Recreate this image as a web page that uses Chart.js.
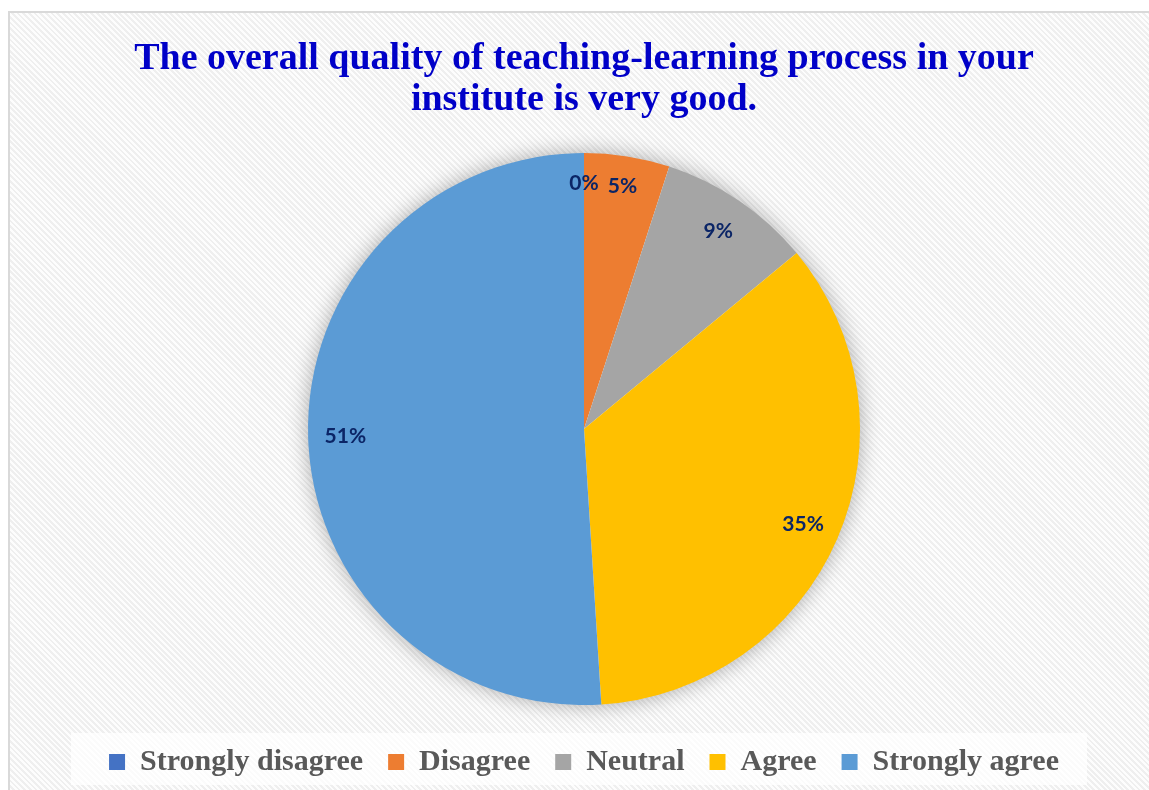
<!DOCTYPE html>
<html>
<head>
<meta charset="utf-8">
<script src="https://cdn.jsdelivr.net/npm/chart.js@4"></script>
<style>
  body { margin: 0; background: #fff; overflow: hidden; }
  #frame {
    position: absolute; left: 8px; top: 11px;
    width: 1200px; height: 800px;
    border: 2px solid #d9d9d9;
    background: repeating-linear-gradient(45deg, #fdfdfd 0px, #fdfdfd 2px, #efefef 2px, #efefef 4px);
  }
  #pie { display: block; }
</style>
</head>
<body>
<div id="frame">
  <canvas id="pie" width="1148" height="777"></canvas>
</div>
<script>
// answers and their share (%)
var categories = ['Strongly disagree', 'Disagree', 'Neutral', 'Agree', 'Strongly agree'];
var shares = [0, 5, 9, 35, 51];
var sliceColors = ['#4472C4', '#ED7D31', '#A5A5A5', '#FFC000', '#5B9BD5'];
var titleLines = ['The overall quality of teaching-learning process in your', 'institute is very good.'];

// soft glow behind the pie
const pieShadow = {
    id: 'pieShadow',
    beforeDatasetsDraw(chart) {
        const arc = chart.getDatasetMeta(0).data[0];
        if (!arc) return;
        const p = arc.getProps(['x', 'y', 'outerRadius'], true);
        const ctx = chart.ctx;
        ctx.save();
        ctx.shadowColor = 'rgba(0,0,0,0.35)';
        ctx.shadowBlur = 22;
        ctx.fillStyle = '#ffffff';
        ctx.beginPath();
        ctx.arc(p.x, p.y, p.outerRadius - 1, 0, Math.PI * 2);
        ctx.fill();
        ctx.restore();
    }
};

// white panel behind the legend
const legendPanel = {
    id: 'legendPanel',
    beforeDraw(chart) {
        const boxes = chart.legend && chart.legend.legendHitBoxes;
        if (!boxes || !boxes.length) return;
        var left = Math.min.apply(null, boxes.map(b => b.left));
        var right = Math.max.apply(null, boxes.map(b => b.left + b.width));
        var top = boxes[0].top;
        const ctx = chart.ctx;
        ctx.save();
        ctx.fillStyle = 'rgba(255,255,255,0.75)';
        ctx.fillRect(left - 38, top - 14, right - left + 66, boxes[0].height + 22);
        ctx.restore();
    }
};

// percentage labels inside the slices
const sliceLabels = {
    id: 'sliceLabels',
    afterDatasetsDraw(chart) {
        const ctx = chart.ctx;
        const meta = chart.getDatasetMeta(0);
        ctx.save();
        ctx.font = 'bold 21px Lato';
        ctx.fillStyle = '#0B2566';
        ctx.textAlign = 'center';
        ctx.textBaseline = 'middle';
        meta.data.forEach(function(arc, i) {
            const p = arc.getProps(['x', 'y', 'startAngle', 'endAngle', 'outerRadius'], true);
            const mid = (p.startAngle + p.endAngle) / 2;
            const r = p.outerRadius * (shares[i] < 8 ? 0.89 : 0.865);
            ctx.fillText(shares[i] + '%', p.x + Math.cos(mid) * r, p.y + Math.sin(mid) * r);
        });
        ctx.restore();
    }
};

const ctx = document.getElementById('pie').getContext('2d');
const chart = new Chart(ctx, {
    type: 'pie',
    data: {
        labels: categories,
        datasets: [{
            data: shares,
            backgroundColor: sliceColors,
            borderWidth: 0,
            radius: 276
        }]
    },
    options: {
        responsive: false,
        animation: false,
        layout: { padding: { top: 0, bottom: 3 } },
        plugins: {
            title: {
                display: true,
                text: titleLines,
                color: '#0000C8',
                font: { family: 'Liberation Serif', weight: 'bold', size: 38, lineHeight: 1.08 },
                padding: { top: 26, bottom: 15 }
            },
            legend: {
                position: 'bottom',
                labels: {
                    color: '#595959',
                    font: { family: 'Liberation Serif', weight: 'bold', size: 30 },
                    boxWidth: 16,
                    boxHeight: 16,
                    padding: 25
                }
            },
            tooltip: { enabled: false }
        }
    },
    plugins: [pieShadow, legendPanel, sliceLabels]
});
</script>
</body>
</html>
